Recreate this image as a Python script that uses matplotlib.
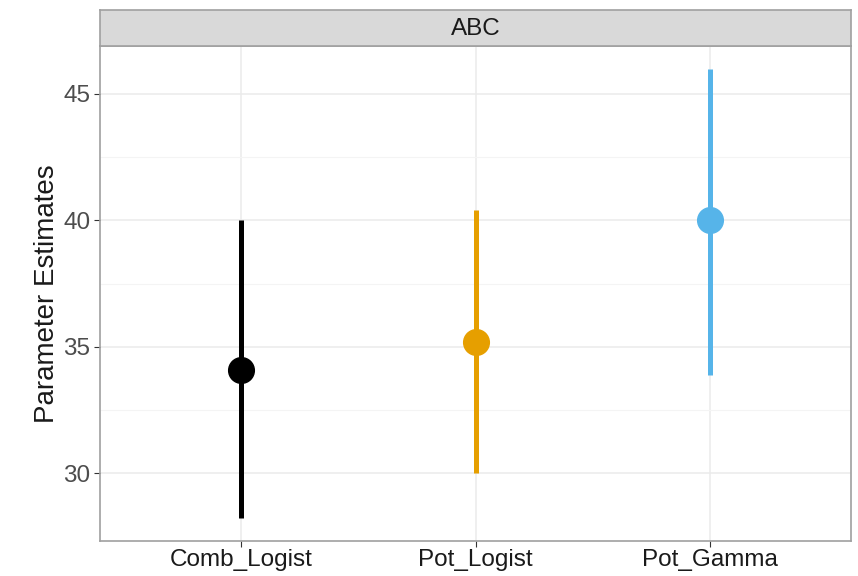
import matplotlib
matplotlib.use("Agg")
import matplotlib.pyplot as plt

plt.rcParams['font.family'] = ['Liberation Sans', 'DejaVu Sans']

models = ["Comb_Logist", "Pot_Logist", "Pot_Gamma"]
estimates = [34.10, 35.18, 40.0]
lower = [28.22, 30.0, 33.9]
upper = [40.0, 40.4, 46.0]
colors = ["#000000", "#E69F00", "#56B4E9"]
panel_title = "ABC"

fig = plt.figure(figsize=(8.58, 5.76), dpi=100)
ax = fig.add_axes([0.1166, 0.0608, 0.8752, 0.8593])

xs = list(range(1, len(models) + 1))
for x, est, lo, hi, c in zip(xs, estimates, lower, upper, colors):
    ax.plot([x, x], [lo, hi], color=c, lw=3.6, solid_capstyle="butt", zorder=3)
    ax.plot([x], [est], marker="o", ms=18.5, color=c, mec=c, zorder=4)

lo_all, hi_all = min(lower), max(upper)
pad = 0.05 * (hi_all - lo_all)
ax.set_ylim(lo_all - pad, hi_all + pad)
ax.set_xlim(0.4, len(models) + 0.6)

ax.set_xticks(xs)
ax.set_xticklabels(models)
ax.set_yticks([30, 35, 40, 45])
ax.set_yticks([32.5, 37.5, 42.5], minor=True)
ax.tick_params(axis="y", labelsize=17.5, labelcolor="#4D4D4D", color="#333333",
               length=4, width=0.8, pad=3)
ax.tick_params(axis="x", labelsize=17.5, labelcolor="#1A1A1A", color="#333333",
               length=4, width=0.8, pad=2)
ax.tick_params(which="minor", length=0)
ax.set_ylabel("Parameter Estimates", fontsize=20, color="#1A1A1A", labelpad=2)

ax.grid(which="major", color="#EBEBEB", lw=1.1, zorder=0)
ax.grid(which="minor", axis="y", color="#F4F4F4", lw=0.8, zorder=0)
ax.set_axisbelow(True)
for s in ax.spines.values():
    s.set_color("#A0A0A0")
    s.set_linewidth(1.2)

# facet strip
strip = fig.add_axes([0.1166, 0.9201, 0.8752, 0.0625])
strip.set_xticks([])
strip.set_yticks([])
strip.set_facecolor("#D9D9D9")
for s in strip.spines.values():
    s.set_color("#A0A0A0")
    s.set_linewidth(1.2)
strip.text(0.5, 0.48, panel_title, ha="center", va="center", fontsize=17.5,
           color="#1A1A1A", transform=strip.transAxes)

fig.savefig("out.png", dpi=100)
